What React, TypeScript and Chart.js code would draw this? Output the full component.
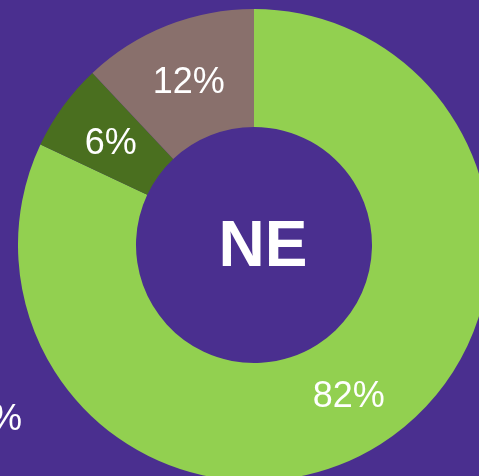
import React, { useEffect, useRef } from "react";
import { Chart, registerables } from "chart.js";

Chart.register(...registerables);

const categories = ["A", "B", "C"];
const values = [82, 6, 12];
const labelsText = ["82%", "6%", "12%"];
const colors = ["#92D050", "#4A6F1F", "#89706C"];
const centerText = "NE";
const BG = "#4A2F8F";

const labelPlugin = {
  id: "labelPlugin",
  afterDatasetsDraw(chart: any) {
    const ctx = chart.ctx;
    const meta = chart.getDatasetMeta(0);
    ctx.save();
    ctx.fillStyle = "#FFFFFF";
    ctx.textAlign = "center";
    ctx.textBaseline = "middle";
    ctx.font = "36px 'Liberation Sans', Arial, sans-serif";
    meta.data.forEach((arc: any, i: number) => {
      const p = arc.tooltipPosition();
      ctx.fillText(labelsText[i], p.x, p.y + 3);
    });
    const cx = (chart.chartArea.left + chart.chartArea.right) / 2;
    const cy = (chart.chartArea.top + chart.chartArea.bottom) / 2;
    ctx.font = "bold 64px 'Liberation Sans', Arial, sans-serif";
    ctx.fillText(centerText, cx + 9, cy + 3);
    ctx.restore();
  },
};

export default function App() {
  const ref = useRef<HTMLCanvasElement>(null);
  useEffect(() => {
    if (!ref.current) return;
    const chart = new Chart(ref.current, {
      type: "doughnut",
      data: {
        labels: categories,
        datasets: [
          {
            data: values,
            backgroundColor: colors,
            borderWidth: 0,
          },
        ],
      },
      options: {
        responsive: false,
        animation: false,
        cutout: "50%",
        layout: { padding: 0 },
        plugins: {
          legend: { display: false },
          tooltip: { enabled: false },
        },
      },
      plugins: [labelPlugin],
    });
    return () => chart.destroy();
  }, []);
  return (
    <div
      style={{
        position: "fixed",
        left: 0,
        top: 0,
        width: 479,
        height: 476,
        overflow: "hidden",
        background: BG,
      }}
    >
      <canvas
        ref={ref}
        width={472}
        height={472}
        style={{ position: "absolute", left: 18, top: 9, width: 472, height: 472 }}
      />
      <span
        style={{
          position: "absolute",
          right: 457,
          top: 398,
          color: "#FFFFFF",
          font: "36px 'Liberation Sans', Arial, sans-serif",
          lineHeight: "40px",
          whiteSpace: "nowrap",
        }}
      >
        %
      </span>
    </div>
  );
}
